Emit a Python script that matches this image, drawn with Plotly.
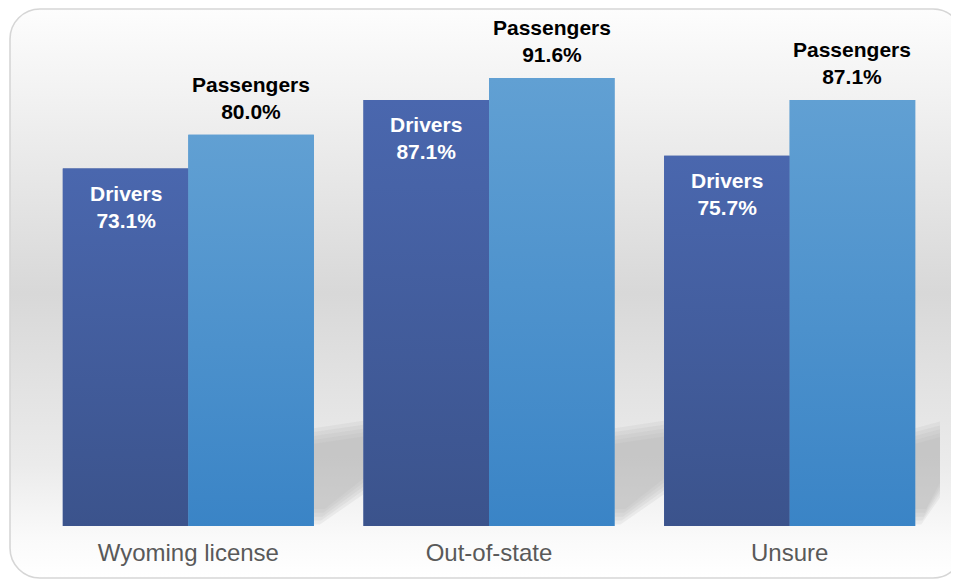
import plotly.graph_objects as go
import urllib.parse

categories = ["Wyoming license", "Out-of-state", "Unsure"]
drivers = [73.1, 87.1, 75.7]
passengers = [80.0, 91.6, 87.1]
series_names = ["Drivers", "Passengers"]

# page body has an 8px margin, so the figure is drawn 8px smaller
W, H = 951, 572
ML, MR, MT, MB = 30, 19, 29, 54
PW, PH = W - ML - MR, H - MT - MB

# background container (rounded, vertical gradient) as an SVG data URI
cx0, cx1, cy0, cy1 = 1, 956, 0, 571
cw, ch = cx1 - cx0, cy1 - cy0
svg = (
    f"<svg xmlns='http://www.w3.org/2000/svg' width='{cw}' height='{ch}' viewBox='0 0 {cw} {ch}' preserveAspectRatio='none'>"
    "<defs><linearGradient id='g' x1='0' y1='0' x2='0' y2='1'>"
    "<stop offset='0' stop-color='#fdfdfd'/>"
    "<stop offset='0.5' stop-color='#d8d8d8'/>"
    "<stop offset='0.8' stop-color='#ebebeb'/>"
    "<stop offset='0.93' stop-color='#fafafa'/>"
    "<stop offset='1' stop-color='#ffffff'/>"
    "</linearGradient></defs>"
    f"<rect x='1' y='1' width='{cw-2}' height='{ch-2}' rx='30' ry='30' fill='url(#g)' stroke='#d6d6d6' stroke-width='1.6'/>"
    "</svg>"
)
src = "data:image/svg+xml;charset=utf-8," + urllib.parse.quote(svg)

bargap = 0.165
half = (1 - bargap) / 2
idx = list(range(len(categories)))

drv_top, drv_bot = "#4a67ae", "#3b538c"
pas_top, pas_bot = "#61a0d3", "#3a84c6"

fig = go.Figure()
fig.add_trace(go.Bar(x=idx, y=drivers, name=series_names[0],
                     marker=dict(color="#4460a0", line=dict(width=0))))
fig.add_trace(go.Bar(x=idx, y=passengers, name=series_names[1],
                     marker=dict(color="#4f93cd", line=dict(width=0))))

# vertical gradient fill over each bar, derived from the same values
for i in idx:
    for vals, x0, x1, ctop, cbot in [(drivers, i - half, i, drv_top, drv_bot),
                                     (passengers, i, i + half, pas_top, pas_bot)]:
        v = vals[i]
        fig.add_trace(go.Scatter(
            x=[x0, x1, x1, x0, x0], y=[0, 0, v, v, 0], mode="none",
            fill="toself", hoverinfo="skip", showlegend=False,
            fillgradient=dict(type="vertical", colorscale=[[0, cbot], [1, ctop]])))

px_per_unit = PW / len(categories)
bar_px = px_per_unit * half

font_family = "Liberation Sans, Arial"
annotations = []
for i in idx:
    annotations.append(dict(
        x=i, y=drivers[i], xref="x", yref="y", xshift=-bar_px / 2, yshift=-11,
        yanchor="top", xanchor="center", showarrow=False,
        text=f"{series_names[0]}<br>{drivers[i]:.1f}%",
        font=dict(family=font_family, size=21, color="#ffffff", weight="bold")))
    annotations.append(dict(
        x=i, y=passengers[i], xref="x", yref="y", xshift=bar_px / 2, yshift=10,
        yanchor="bottom", xanchor="center", showarrow=False,
        text=f"{series_names[1]}<br>{passengers[i]:.1f}%",
        font=dict(family=font_family, size=21, color="#000000", weight="bold")))

# soft floor shadows to the right of each group (several thin layers for a blur)
shapes = []
for i in idx:
    xl = i + half
    xr = i + 1 - half if i < len(categories) - 1 else i + half + 0.09
    for k in range(5):
        d = k * 0.8
        shapes.append(dict(
            type="path", xref="x", yref="y", layer="below",
            path=(f"M {xl},{20.0-d} L {xr},{21.5-d} L {xr},{6.5+d} "
                  f"L {xl+0.02+0.004*k},{0.3+d} L {xl},{0.3+d} Z"),
            fillcolor="#b0b0b0", opacity=0.17, line=dict(width=0)))

fig.update_layout(
    width=W, height=H,
    margin=dict(l=ML, r=MR, t=MT, b=MB),
    paper_bgcolor="#ffffff", plot_bgcolor="rgba(0,0,0,0)",
    barmode="group", bargap=bargap, bargroupgap=0,
    showlegend=False,
    annotations=annotations,
    shapes=shapes,
    images=[dict(source=src, xref="paper", yref="paper",
                 x=(cx0 - ML) / PW, y=(H - MB - cy0) / PH,
                 sizex=cw / PW, sizey=ch / PH,
                 xanchor="left", yanchor="top", sizing="stretch", layer="below")],
    xaxis=dict(range=[-0.5, len(categories) - 0.5], tickvals=idx, ticktext=categories,
               showline=False, showgrid=False, zeroline=False, ticks="",
               ticklabelstandoff=10,
               tickfont=dict(family=font_family, size=24, color="#595959")),
    yaxis=dict(visible=False, range=[0, 100], showgrid=False, zeroline=False),
)

fig.write_html("out.html")
